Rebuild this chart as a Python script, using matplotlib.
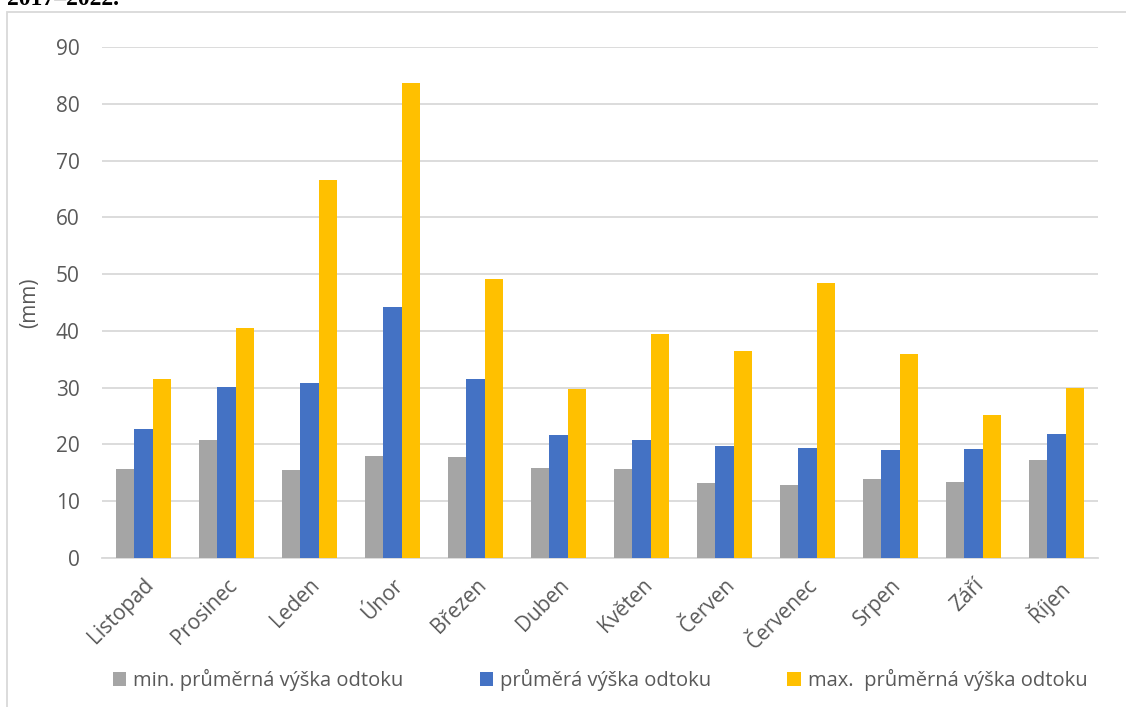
import numpy as np
import matplotlib
matplotlib.use("Agg")
import matplotlib.pyplot as plt
from matplotlib.patches import Rectangle

plt.rcParams['font.family'] = ['Open Sans', 'DejaVu Sans']

# měsíce hydrologického roku
mesice = ['Listopad', 'Prosinec', 'Leden', 'Únor', 'Březen', 'Duben',
          'Květen', 'Červen', 'Červenec', 'Srpen', 'Září', 'Říjen']

# výška odtoku (mm)
min_prumer = [15.7, 20.7, 15.5, 18.0, 17.8, 15.9, 15.6, 13.2, 12.9, 13.9, 13.3, 17.2]
prumer = [22.7, 30.2, 30.8, 44.2, 31.5, 21.6, 20.8, 19.7, 19.3, 19.1, 19.2, 21.8]
max_prumer = [31.5, 40.5, 66.6, 83.6, 49.2, 29.7, 39.4, 36.5, 48.5, 36.0, 25.2, 29.9]

serie = ['min. průměrná výška odtoku', 'průměrá výška odtoku',
         'max.  průměrná výška odtoku']
barvy = ['#A5A5A5', '#4472C4', '#FFC000']
text_barva = '#595959'
mrizka = '#D9D9D9'

fig = plt.figure(figsize=(11.26, 7.07), dpi=100)
ax = fig.add_axes([102 / 1126, 1 - 558 / 707, 996 / 1126, 511 / 707])

x = np.arange(len(mesice))
w = 0.222
for i, (data, barva, nazev) in enumerate(zip([min_prumer, prumer, max_prumer], barvy, serie)):
    ax.bar(x + (i - 1) * w, data, width=w, color=barva, label=nazev, zorder=3)

ax.set_xlim(-0.5, len(mesice) - 0.5)
ax.set_ylim(0, 90)
ax.set_yticks(range(0, 91, 10))
ax.grid(axis='y', color=mrizka, linewidth=1.3, zorder=0)
for s in ['top', 'right', 'left']:
    ax.spines[s].set_visible(False)
ax.spines['bottom'].set_color(mrizka)
ax.spines['bottom'].set_linewidth(1.3)
ax.tick_params(axis='both', length=0, labelsize=15, colors=text_barva)
ax.tick_params(axis='y', pad=16)
ax.set_xticks(x)
ax.set_xticklabels(mesice, rotation=45, ha='right', rotation_mode='anchor')
ax.tick_params(axis='x', pad=12)
ax.set_ylabel('(mm)', fontsize=15, color=text_barva)
ax.yaxis.set_label_coords(-62 / 996, 0.5)

ax.legend(loc='center', bbox_to_anchor=(0.5, -122 / 511), ncol=3, frameon=False,
          fontsize=14.5, labelcolor=text_barva, handlelength=0.65, handleheight=0.65,
          handletextpad=0.35, columnspacing=3.8)

# rámeček grafu
fig.patches.append(Rectangle((6.5 / 1126, -0.05), 1.2, 1 - 12 / 707 + 0.05,
                             transform=fig.transFigure, fill=False,
                             edgecolor=mrizka, linewidth=1.3))

fig.text(7 / 1126, 1 - 5 / 707, '2017–2022.', fontsize=17, fontweight='bold',
         family='Liberation Serif', va='baseline', ha='left')

fig.savefig('out.png', dpi=100)
